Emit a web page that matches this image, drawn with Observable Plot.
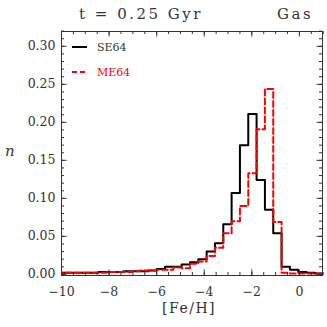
<!DOCTYPE html>
<html><head><meta charset="utf-8">
<script src="https://cdn.jsdelivr.net/npm/d3@7"></script>
<script src="https://cdn.jsdelivr.net/npm/@observablehq/plot@0.6"></script>
<style>
body{margin:0;background:#fff;}
#wrap{position:relative;width:327px;height:327px;font-family:"DejaVu Serif",serif;color:#222;}
#wrap svg.plot text{letter-spacing:0.6px;}
.ov{position:absolute;white-space:pre;line-height:1;}
</style></head><body><div id="wrap"></div>
<script>
// bin left edges of [Fe/H] histogram (width 0.35 dex, last bin ends at 1.0)
const binLeft = [-10.2,-9.85,-9.5,-9.15,-8.8,-8.45,-8.1,-7.75,-7.4,-7.05,-6.7,-6.35,-6.0,-5.65,-5.3,-4.95,-4.6,-4.25,-3.9,-3.55,-3.2,-2.85,-2.5,-2.15,-1.8,-1.45,-1.1,-0.75,-0.4,-0.05,0.3,0.65];
const binRight = 1.0;
const se64 = [0.002,0.002,0.002,0.002,0.002,0.003,0.003,0.003,0.004,0.004,0.004,0.005,0.007,0.010,0.010,0.013,0.016,0.020,0.030,0.041,0.066,0.107,0.170,0.211,0.124,0.085,0.054,0.010,0.006,0.003,0.002,0.001];
const me64 = [0.002,0.002,0.002,0.002,0.002,0.002,0.003,0.003,0.003,0.004,0.005,0.005,0.006,0.006,0.009,0.008,0.014,0.017,0.024,0.035,0.054,0.070,0.090,0.133,0.191,0.244,0.069,0.002,0.001,0.001,0.001,0.001];
const xTicks = [-10,-8,-6,-4,-2,0];
const yTicks = [0,0.05,0.10,0.15,0.20,0.25,0.30];
const seriesNames = ["SE64","ME64"];
const title = "t = 0.25 Gyr";
const tag = "Gas";

const W = 327, H = 327, mL = 61, mR = 5, mT = 31, mB = 52;
const fw = W - mL - mR, fh = H - mT - mB;
const steps = vals => binLeft.map((x,i)=>({x, v: vals[i]})).concat([{x: binRight, v: vals[vals.length-1]}]);
const xMinor = d3.range(-10, 1.001, 0.5);
const yMinor = d3.range(0, 0.3201, 0.01);
const fmtX = d => d < 0 ? "\u2212" + Math.abs(d) : String(d);

const chart = Plot.plot({
  width: W, height: H, marginLeft: mL, marginRight: mR, marginTop: mT, marginBottom: mB,
  style: {fontFamily: '"DejaVu Serif", serif', fontSize: "12.5px", color: "#333", background: "#fff"},
  x: {domain: [-10, 0.97]},
  y: {domain: [-0.0015, 0.3195]},
  marks: [
    Plot.line(steps(se64), {x: "x", y: "v", curve: "step-after", stroke: "#000", strokeWidth: 2, clip: true}),
    Plot.line(steps(me64), {x: "x", y: "v", curve: "step-after", stroke: "#ff0000", strokeWidth: 2, strokeDasharray: "6,3", clip: true}),
    Plot.tickX(xMinor, {x: d => d, insetTop: fh - 3, stroke: "#333"}),
    Plot.tickX(xMinor, {x: d => d, insetBottom: fh - 3, stroke: "#333"}),
    Plot.tickX(xTicks, {x: d => d, insetTop: fh - 5.5, stroke: "#333"}),
    Plot.tickX(xTicks, {x: d => d, insetBottom: fh - 5.5, stroke: "#333"}),
    Plot.tickY(yMinor, {y: d => d, insetRight: fw - 3, stroke: "#333"}),
    Plot.tickY(yMinor, {y: d => d, insetLeft: fw - 3, stroke: "#333"}),
    Plot.tickY(yTicks, {y: d => d, insetRight: fw - 5.5, stroke: "#333"}),
    Plot.tickY(yTicks, {y: d => d, insetLeft: fw - 5.5, stroke: "#333"}),
    Plot.frame({stroke: "#333"}),
    Plot.axisX({ticks: xTicks, tickSize: 0, tickPadding: 12, tickFormat: fmtX, label: null}),
    Plot.axisY({ticks: yTicks, tickSize: 0, tickPadding: 6, tickFormat: d3.format(".2f"), label: null})
  ]
});
const wrap = document.getElementById("wrap");
wrap.appendChild(chart);

function ov(text, css){ const d = document.createElement("div"); d.className = "ov"; d.textContent = text; d.style.cssText += css; wrap.appendChild(d); return d; }
ov(title, "left:79px;top:7px;font-size:15px;letter-spacing:2.5px;color:#333;");
ov(tag, "left:277px;top:7px;font-size:15px;letter-spacing:2.5px;color:#333;");
ov("[Fe/H]", "left:162px;top:301px;font-size:14px;letter-spacing:1.5px;color:#333;");
ov("n", "left:5px;top:144px;font-size:15px;font-style:italic;color:#333;");
// legend
const leg = document.createElementNS("http://www.w3.org/2000/svg","svg");
leg.setAttribute("width", 80); leg.setAttribute("height", 40);
leg.style.cssText = "position:absolute;left:70px;top:38px;";
leg.innerHTML =
  `<line x1="2" x2="17" y1="9" y2="9" stroke="#000" stroke-width="2"/>` +
  `<text x="27" y="13" font-size="11" font-family="DejaVu Serif" fill="#333">${seriesNames[0]}</text>` +
  `<line x1="2" x2="17" y1="34" y2="34" stroke="#ff0000" stroke-width="2" stroke-dasharray="5,3"/>` +
  `<text x="27" y="38" font-size="11" font-family="DejaVu Serif" fill="#ff0000">${seriesNames[1]}</text>`;
wrap.appendChild(leg);
</script></body></html>
